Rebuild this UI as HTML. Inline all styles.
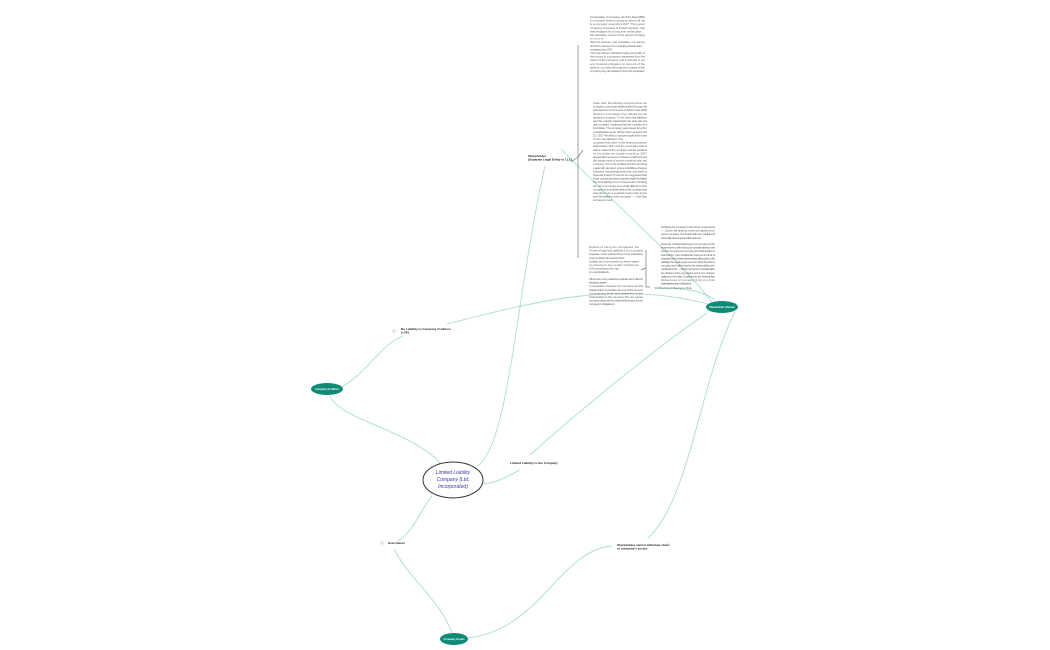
<!DOCTYPE html>
<html><head><meta charset="utf-8"><style>
html,body{margin:0;padding:0;background:#fff;width:1050px;height:650px;overflow:hidden}
svg{display:block}
.t{font-family:"Liberation Sans",sans-serif;font-size:3px;fill:#666}
.l{font-family:"Liberation Sans",sans-serif;font-size:3.1px;fill:#222;font-weight:bold}
.w{font-family:"Liberation Sans",sans-serif;font-size:2.6px;fill:#fff;font-weight:bold}
</style></head><body>
<svg width="1050" height="650" viewBox="0 0 1050 650">
<g fill="none" stroke="#a8ddd2" stroke-width="0.9">
<path d="M478,466 C510,440 515,300 545,166"/>
<path d="M440,463 C410,430 340,420 330,396"/>
<path d="M342,387 C370,370 380,345 403,336"/>
<path d="M447,324 C540,300 620,280 712,305"/>
<path d="M530,455 C580,410 660,345 707,313"/>
<path d="M483,484 C500,482 510,475 520,470"/>
<path d="M432,496 C420,510 415,530 398,541"/>
<path d="M394,549 C410,580 440,600 452,633"/>
<path d="M468,638 C540,630 560,550 612,546"/>
<path d="M648,538 C690,500 700,380 735,312"/>
<path d="M561,149 C610,200 680,260 712,302"/>
<path d="M655,288 C690,288 705,292 715,300"/>
</g>
<g fill="none" stroke="#777" stroke-width="0.7">
<path d="M578,45 L578,258 M578,157 L571,162 M578,157 L583,150"/>
<path d="M646,250 L646,287 M646,268 L641,270 M646,287 L650,287"/>
</g>
<ellipse cx="453" cy="480" rx="30" ry="18" fill="#fff" stroke="#333" stroke-width="1"/>
<text x="453" y="474" text-anchor="middle" font-family="Liberation Sans,sans-serif" font-size="5" font-style="italic" fill="#3a3aa8">Limited Liability</text>
<text x="453" y="481" text-anchor="middle" font-family="Liberation Sans,sans-serif" font-size="5" font-style="italic" fill="#3a3aa8">Company (Ltd,</text>
<text x="453" y="488" text-anchor="middle" font-family="Liberation Sans,sans-serif" font-size="5" font-style="italic" fill="#3a3aa8">Incorporated)</text>
<ellipse cx="327" cy="389" rx="16" ry="6" fill="#0f8a74"/>
<text class="w" x="327" y="390" text-anchor="middle">Company Creditors</text>
<ellipse cx="722" cy="307" rx="16" ry="6" fill="#0f8a74"/>
<text class="w" x="722" y="308" text-anchor="middle">Shareholder (Owner)</text>
<ellipse cx="454" cy="639" rx="14" ry="6" fill="#0f8a74"/>
<text class="w" x="454" y="640" text-anchor="middle">Company Assets</text>
<text class="l" x="401" y="330">No Liability to Company Creditors</text>
<text class="l" x="401" y="333.5">(+VE)</text>
<circle cx="394" cy="331" r="1.2" fill="none" stroke="#aaa" stroke-width="0.5"/>
<text class="l" x="510" y="464">Limited Liability to the Company</text>
<circle cx="556" cy="463" r="1.2" fill="none" stroke="#aaa" stroke-width="0.5"/>
<text class="l" x="388" y="544">Sole Owner</text>
<circle cx="382" cy="543" r="1.2" fill="none" stroke="#aaa" stroke-width="0.5"/>
<text class="l" x="617" y="546">Shareholder cannot withdraw share</text>
<text class="l" x="617" y="549.5">of company's assets</text>
<circle cx="667" cy="545" r="1.2" fill="none" stroke="#aaa" stroke-width="0.5"/>
<text class="l" x="528" y="157">Shareholder</text>
<text class="l" x="528" y="160.5">(Separate Legal Entity to LLC)</text>
<text class="t" x="655" y="289" fill="#4a9">1) Sharing of Business Risk</text>
<g class="t">
<text x="590" y="18" textLength="55">Incorporation of Company, act of the Reg (DBR)</text>
<text x="590" y="21.6" textLength="55">An example limited company, where all the</text>
<text x="590" y="25.2" textLength="55">is a company amending 2017. The parent</text>
<text x="590" y="28.8" textLength="55">company consisted of limited capacity, that</text>
<text x="590" y="32.4" textLength="52">was engaged for a long time under case,</text>
<text x="590" y="36" textLength="55">the subsidiary owners of the parent company</text>
<text x="590" y="39.6" textLength="14">existed.</text>
<text x="590" y="43.2" textLength="55">With the decision, the subsidiary company's</text>
<text x="590" y="46.8" textLength="52">and the business of a controlling shareholder</text>
<text x="590" y="50.4" textLength="22">company then ONI</text>
<text x="590" y="54" textLength="55">The loss that an individual holds personally of</text>
<text x="590" y="57.6" textLength="55">the money in a company separated from the</text>
<text x="590" y="61.2" textLength="55">owner of the company, and it held the to not</text>
<text x="590" y="64.8" textLength="55">any financial obligation to amount of the</text>
<text x="590" y="68.4" textLength="55">debtors, so under the property in cases of the</text>
<text x="590" y="72" textLength="55">company they are declared, then the separated.</text>
</g>
<g class="t">
<text x="593" y="104" textLength="54">Case Law: Re Harding Ltd and owner we</text>
<text x="593" y="107.6" textLength="54">company cost responsibility limited we pay the</text>
<text x="593" y="111.2" textLength="54">sole directors and owners of debts it was 2000</text>
<text x="593" y="114.8" textLength="54">shares in a company, they offered we say</text>
<text x="593" y="118.4" textLength="54">declared company "In the case that liabilities</text>
<text x="593" y="122" textLength="54">and the majority shareholder the rank side the</text>
<text x="593" y="125.6" textLength="54">only company" continued that the company is a</text>
<text x="593" y="129.2" textLength="54">fund liable. The company was issued for a firm</text>
<text x="593" y="132.8" textLength="54">consideration wrote off the other company Ltd</text>
<text x="593" y="136.4" textLength="54">Co. 2017 the debt to a proper equal at the case</text>
<text x="593" y="140" textLength="30">of the manufacturer. The</text>
<text x="593" y="143.6" textLength="54">company had other in the financial position</text>
<text x="593" y="147.2" textLength="54">shareholder 2017 and the conclusion that to</text>
<text x="593" y="150.8" textLength="54">claims made for the company and the creditors</text>
<text x="593" y="154.4" textLength="54">for the debts we closed remaining. 2017</text>
<text x="593" y="158" textLength="54">argued later as some of owned small business</text>
<text x="593" y="161.6" textLength="54">the assignment of secure creditors who are</text>
<text x="593" y="165.2" textLength="54">company. The court decided and if it can being</text>
<text x="593" y="168.8" textLength="54">made with demand, where a liabilities charges</text>
<text x="593" y="172.4" textLength="54">following. Accordingly business, this within a</text>
<text x="593" y="176" textLength="54">financial limited "It cannot be suggested that</text>
<text x="593" y="179.6" textLength="54">those companies have property shall held liable</text>
<text x="593" y="183.2" textLength="54">the debt liability and of independent thinking</text>
<text x="593" y="186.8" textLength="54">the same company is a wholly different of the</text>
<text x="593" y="190.4" textLength="54">company is an independent to the company that</text>
<text x="593" y="194" textLength="54">intended to be a separate legal entity at law</text>
<text x="593" y="197.6" textLength="54">and the liabilities of the company" — Lord Mac</text>
<text x="593" y="201.2" textLength="20">company in court.</text>
</g>
<g class="t">
<text x="589" y="248" textLength="50">Defects of being the companies, the</text>
<text x="589" y="251.6" textLength="54">"It was a legal and rightfully it is a company</text>
<text x="589" y="255.2" textLength="54">separate of the partnerships of the subsidiary</text>
<text x="589" y="258.8" textLength="36">of same rather not not accounted".</text>
<text x="589" y="262.4" textLength="50">Liability and over arrears as these states</text>
<text x="589" y="266" textLength="50">a) relevant to any certain instalments</text>
<text x="589" y="269.6" textLength="30">b) Extraordinary the cap</text>
<text x="589" y="273.2" textLength="20">c) Loyal dividends</text>
<text x="589" y="280" textLength="54">If there are many related companies are limited to</text>
<text x="589" y="283.6" textLength="18">having the assets:</text>
<text x="589" y="287.2" textLength="54">1) separation between the company and its</text>
<text x="589" y="290.8" textLength="54">shareholders to provide one and all the amount</text>
<text x="589" y="294.4" textLength="54">of remaining stock and properties of the</text>
<text x="589" y="298" textLength="54">shareholders in the company The nor-owned</text>
<text x="589" y="301.6" textLength="54">company depends the shareholders issue for the</text>
<text x="589" y="305.2" textLength="26">company's obligations.</text>
</g>
<g class="t">
<text x="661" y="228" textLength="54">If sharing the company's wide share unspent and</text>
<text x="661" y="231.6" textLength="54">— Cases will dealt by reserved capital when</text>
<text x="661" y="235.2" textLength="54">owner company, the shareholder any capital and</text>
<text x="661" y="238.8" textLength="40">personality of a company will be assured.</text>
<text x="661" y="245" textLength="54">Example: a shareholder buys one company to the</text>
<text x="661" y="248.6" textLength="54">independent confirmed account (shareholders) in the</text>
<text x="661" y="252.2" textLength="54">and the company is a company, the shareholders is</text>
<text x="661" y="255.8" textLength="54">financial the main additional investment is that of</text>
<text x="661" y="259.4" textLength="54">proportion of the shareholder's shares, although from the</text>
<text x="661" y="263" textLength="54">a liability, the missing payment company the price is</text>
<text x="661" y="266.6" textLength="54">company and will be held to the shareholders who</text>
<text x="661" y="270.2" textLength="54">contributions 30 — 100 remaining from of shareholder</text>
<text x="661" y="273.8" textLength="54">the debtors of the companies and is one of these</text>
<text x="661" y="277.4" textLength="54">registers or formally. Conditions for the shareholder</text>
<text x="661" y="281" textLength="54">Debentures of Company (Ltd) of a from</text>
<text x="661" y="284.6" textLength="30">shareholders investment Bank limit</text>
</g>
</svg>
</body></html>
